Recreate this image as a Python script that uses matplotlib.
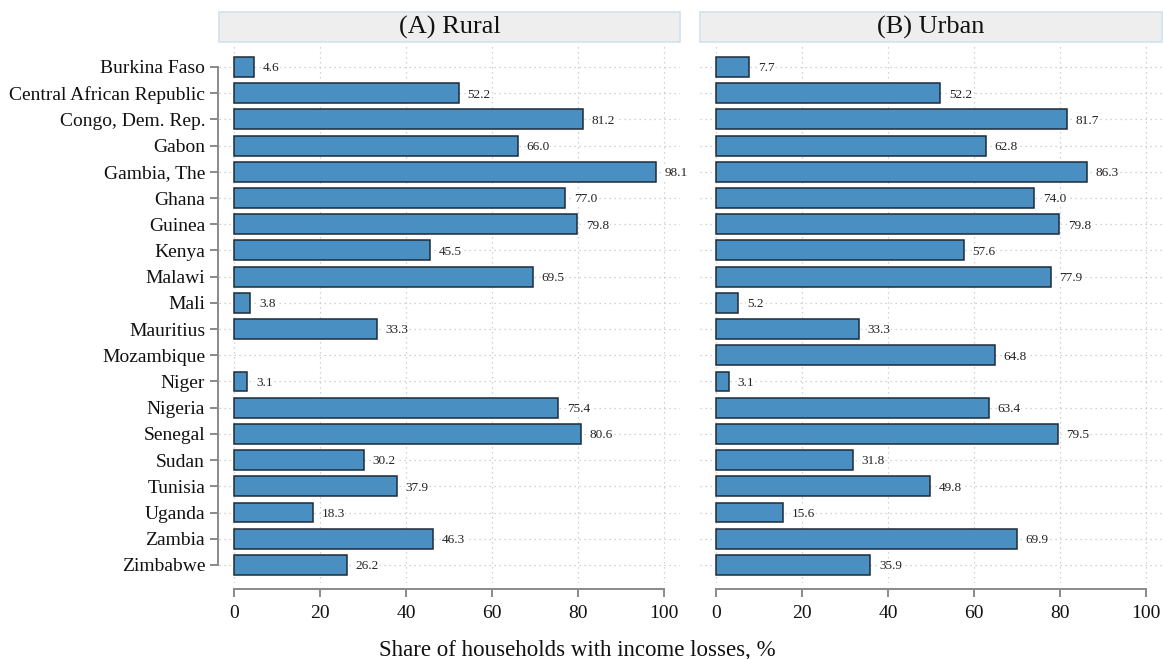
import numpy as np
import matplotlib.pyplot as plt
from matplotlib.patches import Rectangle

plt.rcParams['font.family'] = ['Liberation Serif', 'DejaVu Serif']

countries = ['Burkina Faso', 'Central African Republic', 'Congo, Dem. Rep.', 'Gabon',
             'Gambia, The', 'Ghana', 'Guinea', 'Kenya', 'Malawi', 'Mali', 'Mauritius',
             'Mozambique', 'Niger', 'Nigeria', 'Senegal', 'Sudan', 'Tunisia', 'Uganda',
             'Zambia', 'Zimbabwe']
rural = [4.6, 52.2, 81.2, 66.0, 98.1, 77.0, 79.8, 45.5, 69.5, 3.8, 33.3, np.nan,
         3.1, 75.4, 80.6, 30.2, 37.9, 18.3, 46.3, 26.2]
urban = [7.7, 52.2, 81.7, 62.8, 86.3, 74.0, 79.8, 57.6, 77.9, 5.2, 33.3, 64.8,
         3.1, 63.4, 79.5, 31.8, 49.8, 15.6, 69.9, 35.9]
panels = ['(A) Rural', '(B) Urban']
xticks = [0, 20, 40, 60, 80, 100]

W, H = 1163, 659
fig = plt.figure(figsize=(W / 100, H / 100), dpi=100)

def px_axes(x0, x1, ytop, ybot):
    return fig.add_axes([x0 / W, 1 - ybot / H, (x1 - x0) / W, (ybot - ytop) / H])

bar_col = '#4a8fc1'
edge_col = '#1e2b38'
spine_col = '#8a8a8a'
grid_kw = dict(color='#c4c4c4', lw=0.9, linestyle=(0, (1, 3)), zorder=0)

ypos = np.arange(len(countries))
boxes = [(219, 680), (700, 1162)]
xlims = [(-3.5, 103.7), (-3.7, 103.7)]

for k, (vals, title) in enumerate(zip([rural, urban], panels)):
    x0, x1 = boxes[k]
    ax = px_axes(x0, x1, 44, 583)
    ax.set_xlim(*xlims[k])
    ax.set_ylim(19.69, -0.877)

    for x in xticks:
        ax.axvline(x, **grid_kw)
    for y in ypos:
        ax.axhline(y, **grid_kw)

    v = np.array(vals, dtype=float)
    ok = ~np.isnan(v)
    ax.barh(ypos[ok], v[ok], height=0.76, color=bar_col, edgecolor=edge_col,
            linewidth=1.1, zorder=2)
    for y, val in zip(ypos[ok], v[ok]):
        ax.text(val + 2.0, y + 0.05, f'{val:.1f}', va='center', ha='left', fontsize=9.5,
                color='#222222', zorder=3,
                bbox=dict(facecolor='white', edgecolor='none', pad=0.5))

    for s in ['top', 'right']:
        ax.spines[s].set_visible(False)
    ax.spines['bottom'].set_position(('outward', 4.5))
    ax.spines['bottom'].set_bounds(0, 100)
    ax.spines['bottom'].set_color(spine_col)
    ax.spines['bottom'].set_linewidth(1.4)
    ax.set_xticks(xticks)
    ax.tick_params(axis='x', length=6, width=1.4, color=spine_col, labelsize=14,
                   pad=5, labelcolor='#111111')

    if k == 0:
        ax.spines['left'].set_position(('outward', 1))
        ax.spines['left'].set_bounds(0, len(countries) - 1)
        ax.spines['left'].set_color(spine_col)
        ax.spines['left'].set_linewidth(1.4)
        ax.set_yticks(ypos)
        ax.set_yticklabels(countries)
        ax.tick_params(axis='y', length=6, width=1.4, color=spine_col, labelsize=14,
                       pad=3, labelcolor='#111111')
    else:
        ax.spines['left'].set_visible(False)
        ax.set_yticks([])

    # panel header strip
    fig.patches.append(Rectangle((x0 / W, 1 - 42 / H), (x1 - x0) / W, 30 / H,
                                 transform=fig.transFigure, facecolor='#eeeeee',
                                 edgecolor='#d3e2ea', linewidth=1.2))
    fig.text((x0 + x1) / 2 / W, 1 - 27 / H, title, ha='center', va='center',
             fontsize=19, color='#111111')

fig.text(577 / W, 1 - 650 / H, 'Share of households with income losses, %',
         ha='center', va='center', fontsize=16.5, color='#111111')

fig.savefig('out.png', dpi=100)
